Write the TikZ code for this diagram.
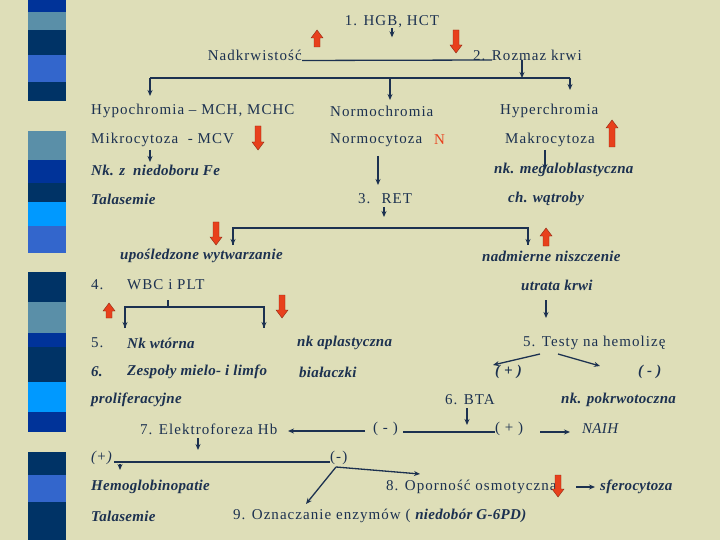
\documentclass[tikz,border=0pt]{standalone}
\usepackage{fontspec}
\setmainfont{Liberation Serif}
\newfontfamily\wideserif[LetterSpace=7]{Liberation Serif}
\newfontfamily\slantserif[LetterSpace=2]{Liberation Serif}
\usetikzlibrary{arrows.meta}
\definecolor{bg}{HTML}{DEDEB8}
\definecolor{ink}{HTML}{1C3150}
\definecolor{hot}{HTML}{E8401C}
\definecolor{navy}{HTML}{003366}
\definecolor{royal}{HTML}{003399}
\definecolor{steel}{HTML}{5A8FA8}
\definecolor{cobalt}{HTML}{3366CC}
\definecolor{sky}{HTML}{0099FF}
\tikzset{
  txt/.style={anchor=west, inner sep=0pt, text=ink, font=\fontsize{15}{17}\wideserif},
  itx/.style={txt, font=\fontsize{15}{17}\slantserif\bfseries\itshape},
  lnk/.style={draw=ink, line width=1.3pt},
  arr/.style={lnk, -{Stealth[length=6pt,width=5pt]}},
  redbox/.style={fill=hot, draw=hot!60!black, line width=0.4pt}
}
% red block arrows: x, y of tip, length
\newcommand{\blockdown}[3]{\fill[redbox] (#1-3,#2-#3) -- (#1+3,#2-#3) -- (#1+3,#2-8) -- (#1+6,#2-8) -- (#1,#2) -- (#1-6,#2-8) -- (#1-3,#2-8) -- cycle;}
\newcommand{\blockup}[3]{\fill[redbox] (#1-3,#2+#3) -- (#1+3,#2+#3) -- (#1+3,#2+8) -- (#1+6,#2+8) -- (#1,#2) -- (#1-6,#2+8) -- (#1-3,#2+8) -- cycle;}
\begin{document}
\begin{tikzpicture}[x=1pt,y=-1pt]
  \fill[bg] (0,0) rectangle (720,540);
  \useasboundingbox (0,0) rectangle (720,540);

  % side strip
  \foreach \ya/\yb/\c in {0/12/royal,12/30/steel,30/55/navy,55/82/cobalt,82/101/navy,
      131/160/steel,160/183/royal,183/202/navy,202/226/sky,226/253/cobalt,
      272/302/navy,302/333/steel,333/347/royal,347/382/navy,382/412/sky,412/432/royal,
      452/475/navy,475/502/cobalt,502/540/navy}
    \fill[\c] (28,\ya) rectangle (66,\yb);

  % texts
  \node[txt, anchor=center] (HGB) at (392,22) {1. HGB, HCT};
  \node[txt, anchor=east] (nadk) at (302,55) {Nadkrwistość};
  \node[txt] (rozmaz) at (473,55) {2. Rozmaz krwi};

  \node[txt] (hypo)  at (91,111)  {Hypochromia – MCH, MCHC};
  \node[txt] (normo) at (330,111) {Normochromia};
  \node[txt] (hyper) at (500,111) {Hyperchromia};

  \node[txt] (mikro) at (91,140)  {Mikrocytoza \ - MCV};
  \node[txt] (normc) at (330,140) {Normocytoza};
  \node[txt, text=hot] (N) at (434,140) {N};
  \node[txt] (makro) at (505,140) {Makrocytoza};

  \node[itx] (fe)    at (91,170)  {Nk. z \ niedoboru Fe};
  \node[itx] (megal) at (494,170) {nk. megaloblastyczna};

  \node[itx] (tal1)  at (91,199)  {Talasemie};
  \node[txt] (ret)   at (358,199) {3. \ RET};
  \node[itx] (wat)   at (508,199) {ch. wątroby};

  \node[itx] (upos)  at (120,256) {upośledzone wytwarzanie};
  \node[itx] (nadm)  at (482,256) {nadmierne niszczenie};

  \node[txt] (n4)    at (91,285)  {4.};
  \node[txt] (wbc)   at (127,285) {WBC i PLT};
  \node[itx] (utr)   at (521,285) {utrata krwi};

  \node[txt] (n5)    at (91,343)  {5.};
  \node[itx] (wtor)  at (127,343) {Nk wtórna};
  \node[itx] (apl)   at (297,343) {nk aplastyczna};
  \node[txt] (testy) at (523,343) {5. Testy na hemolizę};

  \node[itx] (n6)    at (91,372)  {6.};
  \node[itx] (zesp)  at (127,372) {Zespoły mielo- i limfo};
  \node[itx] (bial)  at (299,372) {białaczki};
  \node[itx] (tplus) at (495,372) {( + )};
  \node[itx] (tmin)  at (638,372) {( - )};

  \node[itx] (prol)  at (91,400)  {proliferacyjne};
  \node[txt] (bta)   at (445,400) {6. BTA};
  \node[itx] (pokr)  at (561,400) {nk. pokrwotoczna};

  \node[txt] (elek)  at (140,429) {7. Elektroforeza Hb};
  \node[txt] (bmin)  at (373,429) {( - )};
  \node[txt] (bplus) at (495,429) {( + )};
  \node[itx, font=\fontsize{15}{17}\slantserif\itshape] (naih) at (582,429) {NAIH};

  \node[itx, font=\fontsize{15}{17}\slantserif\itshape] (eplus) at (91,458) {(+)};
  \node[txt] (emin)  at (330,458) {(-)};

  \node[itx] (hemo)  at (91,487)  {Hemoglobinopatie};
  \node[txt] (opor)  at (386,487) {8. Oporność osmotyczna};
  \node[itx] (sfer)  at (600,487) {sferocytoza};

  \node[itx] (tal2)  at (91,516)  {Talasemie};
  \node[txt] (enz)   at (233,516) {9. Oznaczanie enzymów ( {\slantserif\bfseries\itshape niedobór G-6PD)}};

  % connectors
  \draw[lnk] (nadk.south east) -- (492,60) coordinate (r1);
  \draw[arr] (HGB.south) -- ++(0,9);
  \draw[arr] (522,60) coordinate (s1) -- (522,78) coordinate (s2);
  \draw[lnk] (150,78) coordinate (b1) -- (570,78) coordinate (b2);
  \draw[arr] (b1) -- (150,96);
  \draw[arr] (390,78) -- (390,100);
  \draw[arr] (b2) -- (570,90);
  \draw[arr] (150,150) -- (150,162);
  \draw[arr] (378,156) -- (378,185);
  \draw[arr] (545,150) -- (545,170);

  \draw[arr] (384,207) -- (384,217);
  \draw[lnk] (233,245) coordinate (c1) -- (233,228) -- (528,228) -- (528,245) coordinate (c2);
  \draw[arr] (233,230) -- (c1);
  \draw[arr] (528,230) -- (c2);

  \draw[lnk] (168,300) -- (168,307);
  \draw[lnk] (125,328) coordinate (d1) -- (125,307) -- (264,307) -- (264,328) coordinate (d2);
  \draw[arr] (125,310) -- (d1);
  \draw[arr] (264,310) -- (d2);
  \draw[arr] (546,300) -- (546,318);

  \draw[arr] (540,354) -- (493,365);
  \draw[arr] (558,354) -- (600,366);

  \draw[arr] (467,408) -- (467,425);
  \draw[lnk] (403,432) -- (bplus.west |- 432,432);
  \draw[arr] (365,431) -- (288,431);
  \draw[arr] (540,432) -- (570,432);

  \draw[arr] (198,438) -- (198,450);
  \draw[lnk] (114,462) -- (emin.west |- 0,462);
  \draw[arr] (120,464) -- (120,470);
  \draw[arr] (336,467) -- (306,504);
  \draw[arr] (336,467) -- (420,474);
  \draw[arr] (576,487) -- (595,487);

  % red block arrows
  \blockup{317}{30}{17}
  \blockdown{456}{53}{23}
  \blockdown{258}{150}{24}
  \blockup{612}{120}{27}
  \blockdown{216}{245}{23}
  \blockup{546}{228}{18}
  \blockup{109}{303}{15}
  \blockdown{282}{318}{23}
  \blockdown{558}{497}{22}
\end{tikzpicture}
\end{document}
